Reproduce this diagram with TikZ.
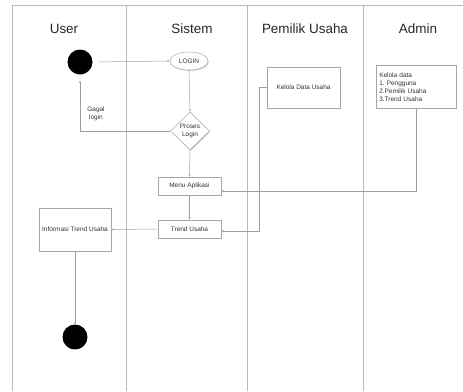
\documentclass[tikz,border=0pt]{standalone}
\usepackage{fontspec}
\setmainfont{Liberation Sans}
\usetikzlibrary{arrows.meta,shapes.geometric,shadows}
\frenchspacing
\begin{document}
\begin{tikzpicture}[x=1bp,y=-1bp,
  lane/.style={draw=gray!55,line width=0.7bp},
  title/.style={font=\fontsize{13.5}{16}\selectfont,text=black!85},
  small/.style={font=\fontsize{6.5}{8}\selectfont,text=black!80},
  act/.style={draw=gray!70,line width=0.5bp,fill=white,inner sep=0pt,small,
    drop shadow={shadow xshift=0.9bp,shadow yshift=-0.9bp,fill=gray!60,opacity=0.6}},
  dot/.style={circle,fill=black,inner sep=0pt,minimum size=25bp},
  flow/.style={draw=gray!75,line width=0.5bp,-{Stealth[length=2.5bp,width=2bp]}}
]
\useasboundingbox (0,0) rectangle (463,391);
% swimlanes
\draw[lane] (12,391) -- (12,5) -- (463,5);
\draw[lane] (126,5) -- (126,391);
\draw[lane] (247,5) -- (247,391);
\draw[lane] (363,5) -- (363,391);
\node[title] (tuser) at (64,29) {User};
\node[title] (tsis) at (192,29) {Sistem};
\node[title] (tpem) at (305,29) {Pemilik Usaha};
\node[title] (tadm) at (418,29) {Admin};
% nodes
\node[dot] (start) at (80,62) {};
\node[act,ellipse,minimum width=38bp,minimum height=18bp] (login) at (189,61) {LOGIN};
\node[act,diamond,minimum width=39bp,minimum height=38bp,align=center,
  font=\fontsize{6.5}{7.5}\selectfont] (proses) at (190,131) {Proses\\Login};
\node[act,rectangle,minimum width=63bp,minimum height=18bp] (menu) at (189.5,186) {Menu Aplikasi};
\node[act,rectangle,minimum width=63bp,minimum height=18bp] (trend) at (189.5,229) {Trend Usaha};
\node[act,rectangle,minimum width=72bp,minimum height=43bp] (info) at (75,229.5) {Informasi Trend Usaha};
\node[dot] (end) at (75,337) {};
\node[act,rectangle,minimum width=73bp,minimum height=41bp] (kelola) at (303.5,87.5) {Kelola Data Usaha};
\node[act,rectangle,minimum width=78bp,minimum height=43bp,align=left,anchor=north west,
  text width=74bp,inner xsep=3bp,inner ysep=3bp,font=\fontsize{6.5}{8}\selectfont] (admin) at (376,65)
  {Kelola data\\1. Pengguna\\2.Pemilik Usaha\\3.Trend Usaha};
\node[small,align=center,font=\fontsize{6.5}{7.5}\selectfont] (gagal) at (96,114) {Gagal\\login};
\coordinate (kbend) at (259,0);
% connectors
\draw[flow,shorten <=6bp] (start.east) -- (login.west);
\draw[flow] (login.south) -- (proses.north);
\draw[flow,shorten >=6bp] (proses.west) -| (start.south);
\draw[flow] (proses.south) -- (menu.north);
\draw[flow] (menu.south) -- (trend.north);
\draw[flow] (trend.west) -- (info.east);
\draw[flow] (info.south) -- (end.north);
\draw[flow] (admin.south) |- ([yshift=-5bp]menu.east);
\draw[flow] (kelola.west) -- (kelola.west -| kbend) |- ([yshift=-2bp]trend.east);
\end{tikzpicture}
\end{document}
